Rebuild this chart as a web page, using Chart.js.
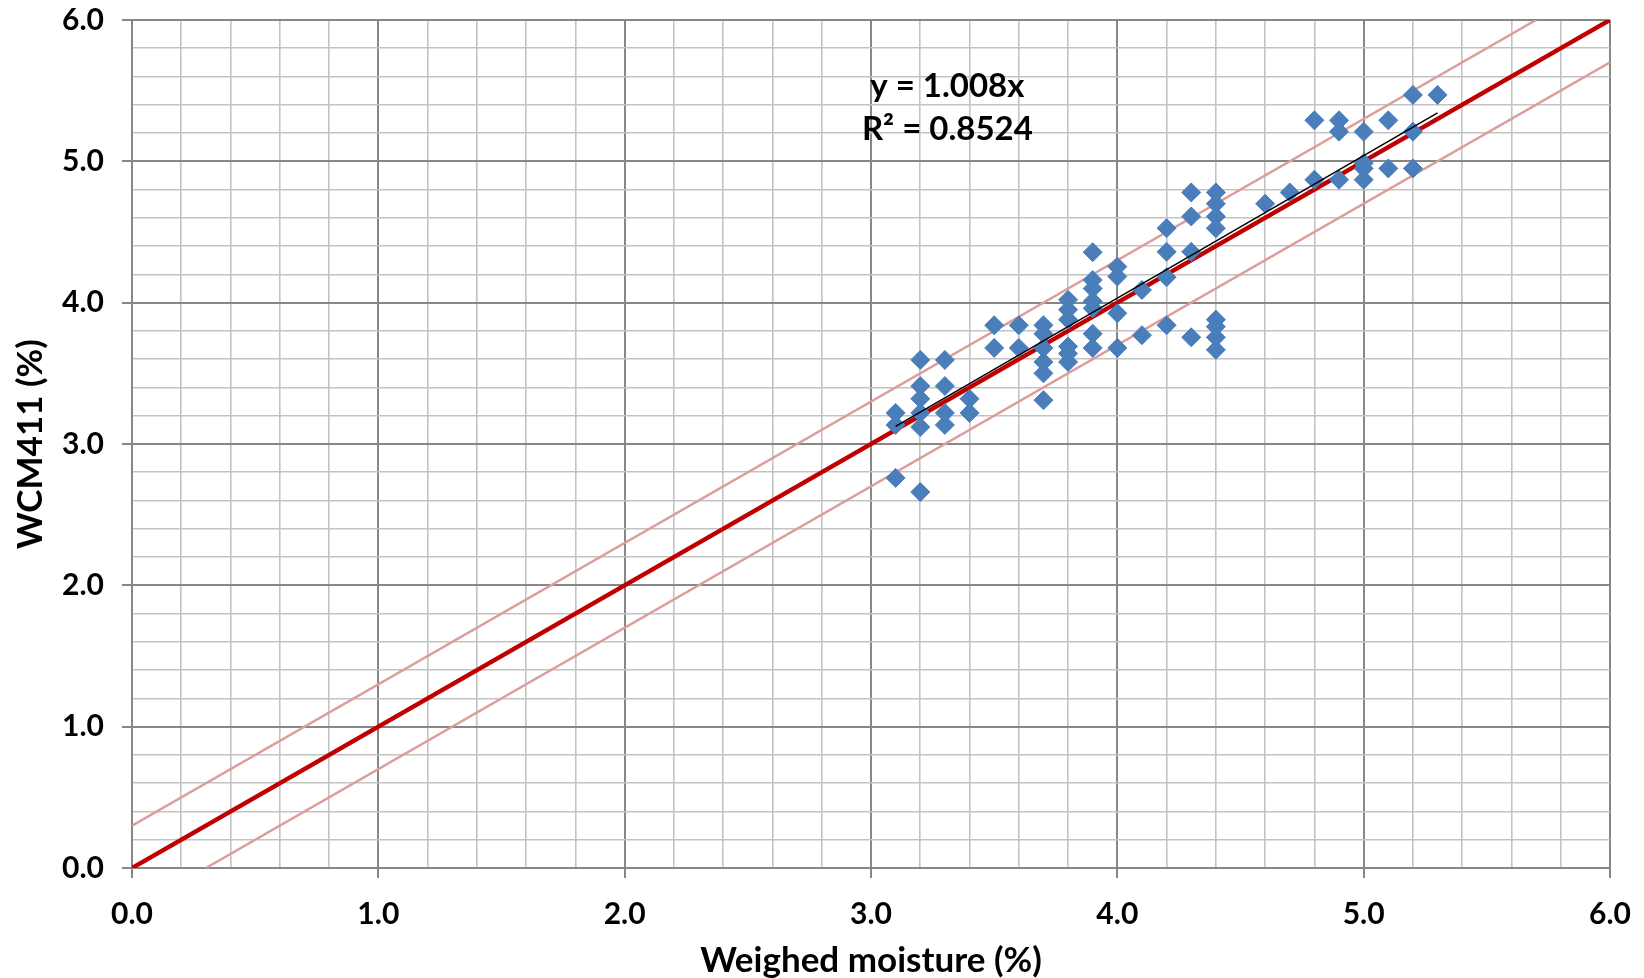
<!DOCTYPE html>
<html>
<head>
<meta charset="utf-8">
<script src="https://cdn.jsdelivr.net/npm/chart.js@4.4.1/dist/chart.umd.min.js"></script>
<style>
  html, body { margin: 0; padding: 0; background: #fff; }
  #wrap { width: 1644px; height: 978px; }
</style>
</head>
<body>
<div id="wrap"><canvas id="moistureChart" width="1644" height="978"></canvas></div>
<script>
const weighedMoisture = [
  3.1, 3.1, 3.1,
  3.2, 3.2, 3.2, 3.2, 3.2, 3.2,
  3.3, 3.3, 3.3, 3.3,
  3.4, 3.4,
  3.5, 3.5,
  3.6, 3.6,
  3.7, 3.7, 3.7, 3.7, 3.7, 3.7,
  3.8, 3.8, 3.8, 3.8, 3.8, 3.8,
  3.9, 3.9, 3.9, 3.9, 3.9, 3.9, 3.9,
  4.0, 4.0, 4.0, 4.0,
  4.1, 4.1,
  4.2, 4.2, 4.2, 4.2,
  4.3, 4.3, 4.3, 4.3,
  4.4, 4.4, 4.4, 4.4, 4.4, 4.4, 4.4, 4.4,
  4.6, 4.7,
  4.8, 4.8,
  4.9, 4.9, 4.9,
  5.0, 5.0, 5.0, 5.0,
  5.1, 5.1,
  5.2, 5.2, 5.2,
  5.3
];
const wcm411 = [
  3.22, 3.135, 2.76,
  3.595, 3.41, 3.32, 3.22, 3.12, 2.66,
  3.595, 3.41, 3.22, 3.135,
  3.32, 3.22,
  3.84, 3.68,
  3.84, 3.68,
  3.84, 3.78, 3.68, 3.58, 3.50, 3.31,
  4.02, 3.95, 3.88, 3.69, 3.64, 3.58,
  4.357, 4.16, 4.10, 4.01, 3.96, 3.78, 3.68,
  4.255, 4.185, 3.925, 3.68,
  4.09, 3.77,
  4.527, 4.36, 4.18, 3.84,
  4.78, 4.61, 4.36, 3.755,
  4.78, 4.70, 4.61, 4.527, 3.88, 3.83, 3.755, 3.666,
  4.70, 4.78,
  5.29, 4.87,
  5.29, 5.21, 4.87,
  5.21, 4.987, 4.95, 4.87,
  5.29, 4.95,
  5.47, 5.21, 4.95,
  5.47
];

// 1:1 line and +/- 0.3 band
const oneToOneX = [0, 6];
const oneToOneY = [0, 6];
const upperBandX = [0, 5.7];
const upperBandY = [0.3, 6];
const lowerBandX = [0.3, 6];
const lowerBandY = [0, 5.7];

// linear trend through origin
const trendSlope = 1.008;
const trendX = [3.1, 5.3];
const trendText = ['y = 1.008x', 'R\u00b2 = 0.8524'];

const axisMin = 0;
const axisMax = 6;

const toPoints = (xs, ys) => xs.map((x, i) => ({ x: x, y: ys[i] }));
const isMajor = v => Math.abs(v - Math.round(v)) < 1e-6;

const FONT = 'Lato';

const equationLabel = {
  id: 'equationLabel',
  afterDatasetsDraw(chart) {
    const { ctx, scales } = chart;
    const cx = scales.x.getPixelForValue(3.31);
    const cy = scales.y.getPixelForValue(5.53);
    ctx.save();
    ctx.fillStyle = '#000';
    ctx.font = 'bold 33px ' + FONT;
    ctx.textAlign = 'center';
    ctx.textBaseline = 'middle';
    trendText.forEach((t, i) => ctx.fillText(t, cx, cy + i * 43));
    ctx.restore();
  }
};

const gridOpts = {
  color: ctx => isMajor(ctx.tick.value) ? '#878787' : '#c3c3c3',
  lineWidth: ctx => isMajor(ctx.tick.value) ? 2 : 1.6,
  tickColor: ctx => isMajor(ctx.tick.value) ? '#878787' : 'rgba(0,0,0,0)',
  tickLength: 10,
  tickWidth: 2,
  drawTicks: true
};

const tickOpts = {
  stepSize: 0.2,
  autoSkip: false,
  maxRotation: 0,
  padding: 18,
  color: '#000',
  font: { family: FONT, size: 30, weight: 'bold' },
  callback: v => isMajor(v) ? Number(v).toFixed(1) : ''
};

const ctx = document.getElementById('moistureChart').getContext('2d');
new Chart(ctx, {
  type: 'scatter',
  data: {
    datasets: [
      {
        label: 'Trend',
        data: trendX.map(x => ({ x: x, y: trendSlope * x })),
        showLine: true,
        borderColor: '#000000',
        borderWidth: 1.5,
        pointRadius: 0
      },
      {
        label: 'WCM411',
        data: toPoints(weighedMoisture, wcm411),
        pointStyle: 'rectRot',
        pointRadius: 9.5,
        pointBackgroundColor: '#4a7ebb',
        pointBorderColor: '#4a7ebb',
        pointBorderWidth: 1
      },
      {
        label: '1:1',
        data: toPoints(oneToOneX, oneToOneY),
        showLine: true,
        borderColor: '#c00000',
        borderWidth: 4.5,
        pointRadius: 0
      },
      {
        label: '+0.3',
        data: toPoints(upperBandX, upperBandY),
        showLine: true,
        borderColor: '#dc9d9b',
        borderWidth: 2.5,
        pointRadius: 0
      },
      {
        label: '-0.3',
        data: toPoints(lowerBandX, lowerBandY),
        showLine: true,
        borderColor: '#dc9d9b',
        borderWidth: 2.5,
        pointRadius: 0
      }
    ]
  },
  options: {
    responsive: false,
    animation: false,
    layout: { padding: { left: 0, top: 20, right: 34, bottom: 0 } },
    plugins: {
      legend: { display: false },
      tooltip: { enabled: false }
    },
    scales: {
      x: {
        type: 'linear',
        min: axisMin,
        max: axisMax,
        grid: gridOpts,
        border: { color: '#878787', width: 2 },
        ticks: tickOpts,
        title: {
          display: true,
          text: 'Weighed moisture (%)',
          color: '#000',
          font: { family: FONT, size: 35, weight: 'bold', lineHeight: 1 },
          padding: { top: 0, bottom: 0 }
        },
        afterFit: scale => {
          scale.height = 110;
          scale.paddingLeft = 0;
          scale.paddingRight = 0;
        }
      },
      y: {
        type: 'linear',
        min: axisMin,
        max: axisMax,
        grid: gridOpts,
        border: { color: '#878787', width: 2 },
        ticks: tickOpts,
        title: {
          display: true,
          text: 'WCM411 (%)',
          color: '#000',
          font: { family: FONT, size: 35, weight: 'bold', lineHeight: 1 },
          padding: { top: 13, bottom: 0 }
        },
        afterFit: scale => {
          scale.width = 132;
          scale.paddingTop = 0;
          scale.paddingBottom = 0;
        }
      }
    }
  },
  plugins: [equationLabel]
});
</script>
</body>
</html>
